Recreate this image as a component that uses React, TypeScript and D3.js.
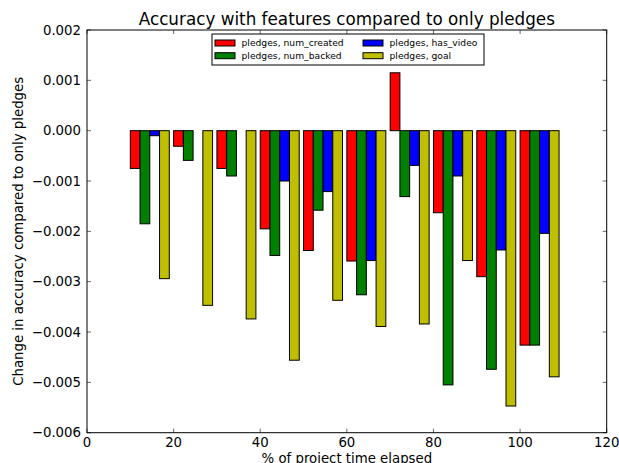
import React from "react";
import * as d3 from "d3";

const groups = [10, 20, 30, 40, 50, 60, 70, 80, 90, 100];
const seriesNames = ["pledges, num_created", "pledges, num_backed", "pledges, has_video", "pledges, goal"];
const seriesColors = ["#ff0000", "#008000", "#0000ff", "#bfbf00"];
const numCreated = [-0.00075, -0.00031, -0.00075, -0.00195, -0.00238, -0.00259, 0.00115, -0.00163, -0.0029, -0.00426];
const numBacked = [-0.00185, -0.00059, -0.0009, -0.00248, -0.00158, -0.00326, -0.00131, -0.00505, -0.00474, -0.00426];
const hasVideo = [-0.0001, 0, 0, -0.001, -0.00121, -0.00258, -0.00069, -0.0009, -0.00237, -0.00204];
const goal = [-0.00294, -0.00347, -0.00374, -0.00456, -0.00337, -0.00389, -0.00384, -0.00258, -0.00547, -0.00489];
const xTicks = [0, 20, 40, 60, 80, 100, 120];
const yTicks = [0.002, 0.001, 0.0, -0.001, -0.002, -0.003, -0.004, -0.005, -0.006];
const barWidth = 2.25;

const W = 619;
const H = 463;
const left = 87, right = 606.7, top = 30, bottom = 432.7;
const FONT = "DejaVu Sans, sans-serif";

export default function App() {
  const x = d3.scaleLinear().domain([0, 120]).range([left, right]);
  const y = d3.scaleLinear().domain([-0.006, 0.002]).range([bottom, top]);
  const series = [numCreated, numBacked, hasVideo, goal];
  const fmtY = (v: number) => (v < 0 ? "\u2212" : "") + Math.abs(v).toFixed(3);
  const tickLen = 4;

  return (
    <svg width={W} height={H} style={{ position: "absolute", left: 0, top: 0, background: "#fff" }} fontFamily={FONT}>
      <rect x={0} y={0} width={W} height={H} fill="#fff" />
      {series.map((vals, si) =>
        vals.map((v, gi) => {
          const x0 = x(groups[gi] + si * barWidth);
          const x1 = x(groups[gi] + (si + 1) * barWidth);
          const y0 = y(Math.max(0, v));
          const y1 = y(Math.min(0, v));
          return (
            <rect key={`${si}-${gi}`} x={x0} y={y0} width={x1 - x0} height={y1 - y0}
              fill={seriesColors[si]} stroke="#000" strokeWidth={1} />
          );
        })
      )}
      {/* spines */}
      <rect x={left} y={top} width={right - left} height={bottom - top} fill="none" stroke="#000" strokeWidth={1} />
      {/* x ticks */}
      {xTicks.map((t) => (
        <g key={`xt${t}`}>
          <line x1={x(t)} x2={x(t)} y1={bottom} y2={bottom - tickLen} stroke="#000" strokeWidth={0.6} />
          <line x1={x(t)} x2={x(t)} y1={top} y2={top + tickLen} stroke="#000" strokeWidth={0.6} />
          <text x={x(t)} y={447} fontSize={13.3} textAnchor="middle" fill="#000">{t}</text>
        </g>
      ))}
      {/* y ticks */}
      {yTicks.map((t) => (
        <g key={`yt${t}`}>
          <line x1={left} x2={left + tickLen} y1={y(t)} y2={y(t)} stroke="#000" strokeWidth={0.6} />
          <line x1={right} x2={right - tickLen} y1={y(t)} y2={y(t)} stroke="#000" strokeWidth={0.6} />
          <text x={81} y={y(t)} dy="0.36em" fontSize={13.3} textAnchor="end" fill="#000">{fmtY(t)}</text>
        </g>
      ))}
      {/* title */}
      <text x={(left + right) / 2} y={25} fontSize={16.8} textAnchor="middle" fill="#000">
        Accuracy with features compared to only pledges
      </text>
      {/* axis labels */}
      <text x={(left + right) / 2} y={463} fontSize={13.3} textAnchor="middle" fill="#000">
        % of project time elapsed
      </text>
      <text transform={`translate(23,${(top + bottom) / 2}) rotate(-90)`} fontSize={13.3} textAnchor="middle" fill="#000">
        Change in accuracy compared to only pledges
      </text>
      {/* legend */}
      <g>
        <rect x={212} y={34} width={272} height={31} fill="#fff" stroke="#000" strokeWidth={1} />
        {seriesNames.map((name, i) => {
          const col = Math.floor(i / 2);
          const row = i % 2;
          const sx = col === 0 ? 215 : 363;
          const sy = row === 0 ? 40 : 52.7;
          return (
            <g key={name}>
              <rect x={sx} y={sy} width={20} height={6} fill={seriesColors[i]} stroke="#000" strokeWidth={1} />
              <text x={sx + 26.5} y={sy + 6.3} fontSize={9.2} fill="#000">{name}</text>
            </g>
          );
        })}
      </g>
    </svg>
  );
}
